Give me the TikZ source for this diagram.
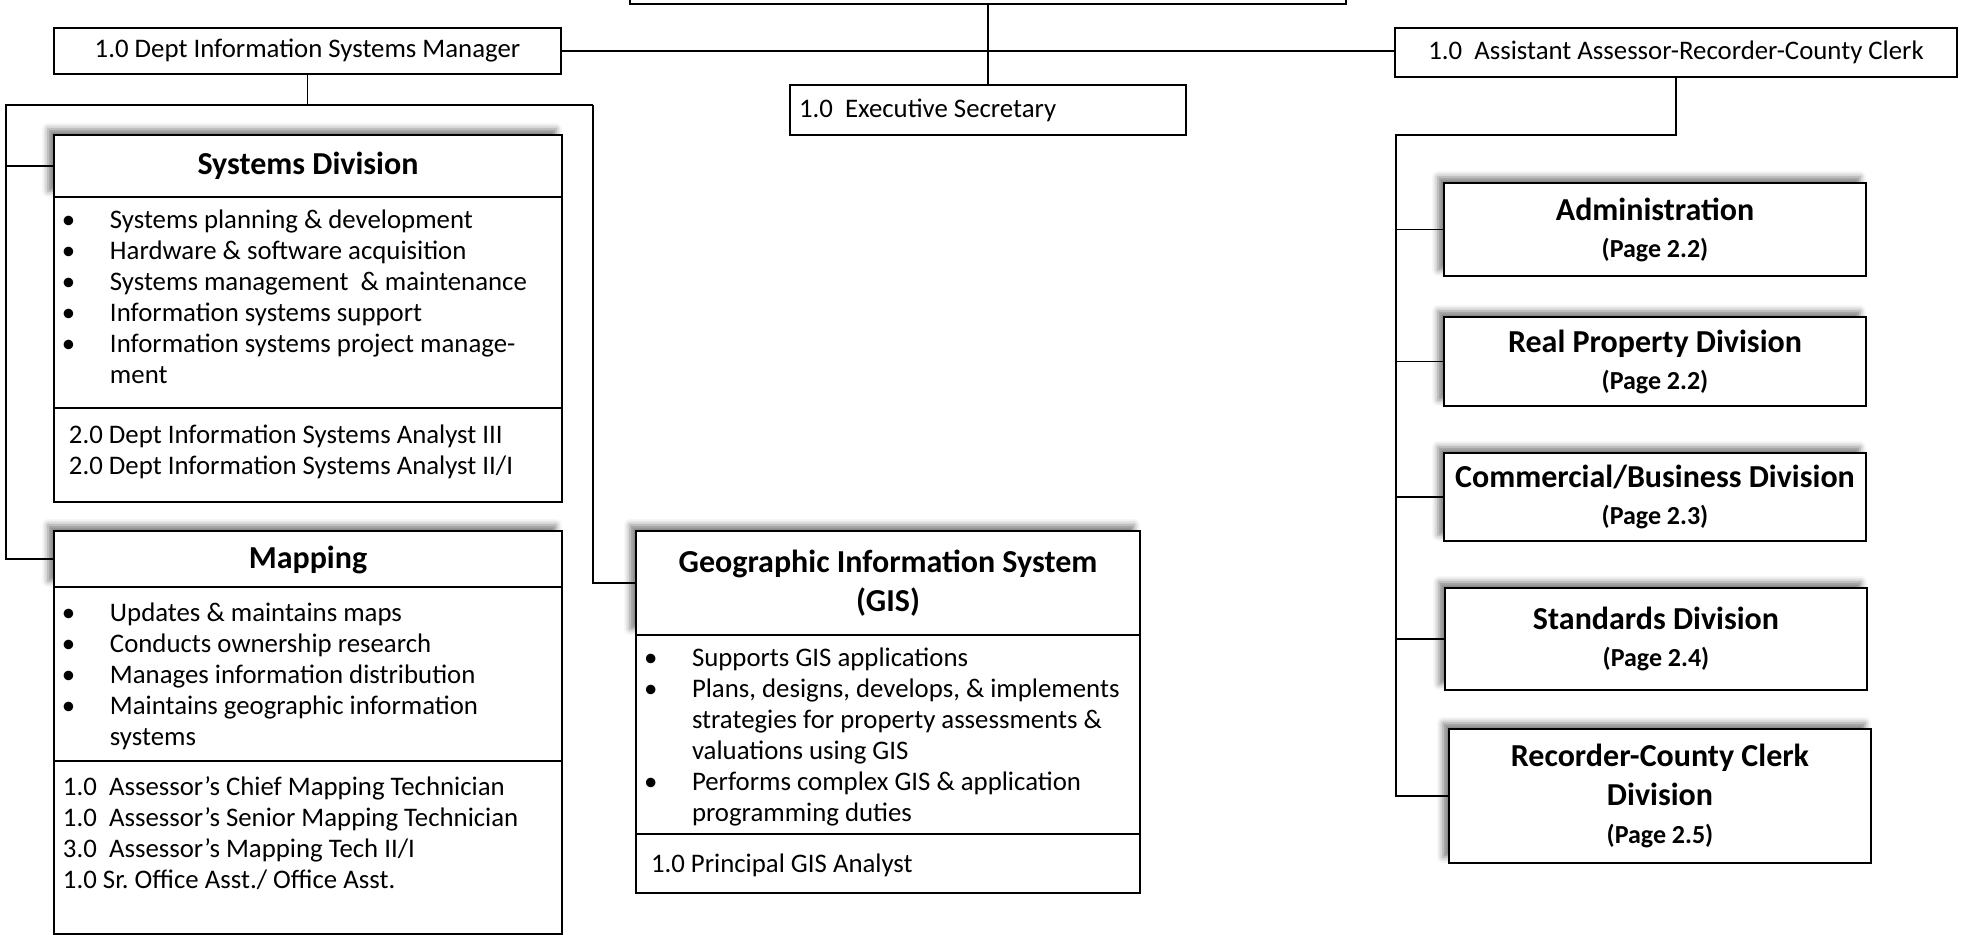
\documentclass[tikz,border=0pt]{standalone}
\usepackage{fontspec}
\setmainfont{Carlito}
\usetikzlibrary{positioning,shadows.blur}
\frenchspacing

\newcommand{\bodyfont}{\fontsize{13.4}{15.5}\selectfont}
\newcommand{\titlefont}{\fontsize{16}{19.5}\selectfont\bfseries}
\newcommand{\pagefont}{\fontsize{13}{15}\selectfont\bfseries}
\newcommand{\listcell}[4]{\parbox[c][#2][t]{#1}{\raggedright\vspace*{#3}#4}}
\newcommand{\bul}[1]{\par\hangindent=28pt\hangafter=1\noindent\makebox[28pt][l]{\hspace{4pt}\textbullet}\strut#1\strut\par}
\newcommand{\stf}[2][7.5pt]{\par\noindent\hspace*{#1}\strut#2\strut\par}

\begin{document}
\begin{tikzpicture}[x=0.5pt,y=-0.5pt,
    box/.style={draw,line width=0.8pt,fill=white,inner sep=0pt,outer sep=0pt,font=\bodyfont},
    unitshadow/.style={blur shadow={shadow xshift=-3pt,shadow yshift=3pt,shadow blur radius=3pt,shadow opacity=50}},
    divtitle/.style={box,unitshadow,align=center,font=\titlefont},
    pagebox/.style={divtitle,minimum width=211pt,anchor=north west},
    link/.style={line width=0.6pt}]
    \useasboundingbox (0,0) rectangle (1967,935);

    % top row
    \node[box,anchor=south west,minimum width=358pt,minimum height=30pt] (assessor) at (630,4) {};
    \node[box,anchor=north west,minimum width=253.5pt,minimum height=23pt] (mgr) at (54,28) {1.0 Dept Information Systems Manager};
    \node[box,anchor=north west,minimum width=281pt,minimum height=24.5pt] (asst) at (1395,28) {1.0\ \ Assistant Assessor-Recorder-County Clerk};
    \node[box,anchor=north west,minimum width=198pt,minimum height=25pt] (exsec) at (790,85) {\makebox[189pt][l]{1.0\ \ Executive Secretary}};

    % systems division
    \node[divtitle,anchor=north west,minimum width=254pt,minimum height=31pt] (systitle) at (54,135) {Systems Division};
    \node[box,below=0pt of systitle] (syslist) {\listcell{254pt}{105.5pt}{5pt}{%
        \bul{Systems planning \& development}
        \bul{Hardware \& software acquisition}
        \bul{Systems management\ \ \& maintenance}
        \bul{Information systems support}
        \bul{Information systems project manage-\newline ment}}};
    \node[box,below=0pt of syslist] (sysstaff) {\listcell{254pt}{47pt}{7pt}{%
        \stf{2.0 Dept Information Systems Analyst III}
        \stf{2.0 Dept Information Systems Analyst II/I}}};

    % mapping
    \node[divtitle,anchor=north west,minimum width=254pt,minimum height=28pt,text depth=2pt] (maptitle) at (54,531) {Mapping};
    \node[box,below=0pt of maptitle] (maplist) {\listcell{254pt}{87pt}{6.5pt}{%
        \bul{Updates \& maintains maps}
        \bul{Conducts ownership research}
        \bul{Manages information distribution}
        \bul{Maintains geographic information\newline systems}}};
    \node[box,below=0pt of maplist] (mapstaff) {\listcell{254pt}{86.5pt}{6.5pt}{%
        \stf[4.5pt]{1.0\ \ Assessor’s Chief Mapping Technician}
        \stf[4.5pt]{1.0\ \ Assessor’s Senior Mapping Technician}
        \stf[4.5pt]{3.0\ \ Assessor’s Mapping Tech II/I}
        \stf[4.5pt]{1.0 Sr. Office Asst./ Office Asst.}}};

    % gis
    \node[divtitle,anchor=north west,minimum width=252pt,minimum height=52pt] (gistitle) at (636,531) {Geographic Information System\\(GIS)};
    \node[box,below=0pt of gistitle] (gislist) {\listcell{252pt}{99.5pt}{5pt}{%
        \bul{Supports GIS applications}
        \bul{Plans, designs, develops, \& implements\newline strategies for property assessments \&\newline valuations using GIS}
        \bul{Performs complex GIS \& application\newline programming duties}}};
    \node[box,below=0pt of gislist] (gisstaff) {\listcell{252pt}{29.5pt}{8.5pt}{%
        \stf{1.0 Principal GIS Analyst}}};

    % divisions on other pages
    \node[pagebox,minimum height=46.5pt] (adm) at (1444,183) {Administration\\[-1pt]{\pagefont (Page 2.2)}};
    \node[pagebox,minimum height=44.5pt] (realprop) at (1444,317) {Real Property Division\\[-1pt]{\pagefont (Page 2.2)}};
    \node[pagebox,minimum height=44pt] (comm) at (1444,453) {Commercial/Business Division\\[-1pt]{\pagefont (Page 2.3)}};
    \node[pagebox,minimum height=51pt] (stds) at (1445,588) {Standards Division\\[-1pt]{\pagefont (Page 2.4)}};
    \node[pagebox,minimum height=67pt] (rcc) at (1449,729) {Recorder-County Clerk\\Division\\[-0.5pt]{\pagefont (Page 2.5)}};

    % connectors
    \coordinate (lbus) at (6,105);
    \coordinate (mbus) at (593,105);
    \coordinate (rbus) at (1396,135);
    \draw[link] (assessor.south) -- (exsec.north);
    \draw[link] (mgr.east) -- (mgr.east -| asst.west);
    \draw[link] (mgr.south) -- (mgr.south |- lbus);
    \draw[link] (mbus) -- (lbus) |- (maptitle.west);
    \draw[link] (lbus |- systitle.west) -- (systitle.west);
    \draw[link] (mbus) |- (gistitle.west);
    \draw[link] (asst.south) |- (rbus) |- (rcc.west);
    \foreach \n in {adm,realprop,comm,stds}{%
        \draw[link] (rbus |- \n.west) -- (\n.west);
    }
\end{tikzpicture}
\end{document}
